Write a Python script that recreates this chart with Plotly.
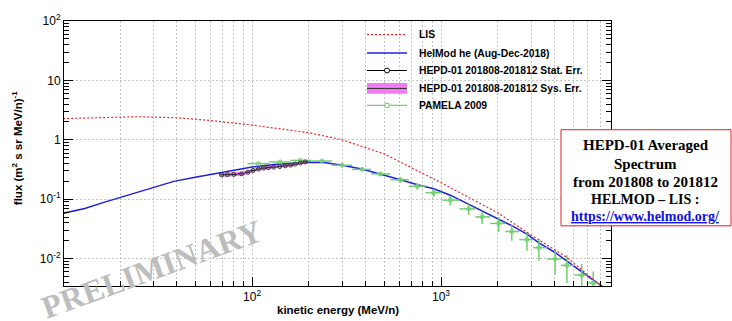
import math
import plotly.graph_objects as go

# ---------------- data ----------------
# Local interstellar spectrum (LIS)
lis_e = [10, 15, 25, 40, 60, 100, 200, 300, 500, 1000, 2000, 3000, 4600, 7100, 8000]
lis_f = [2.28, 2.38, 2.45, 2.35, 2.12, 1.77, 1.32, 1.0, 0.58, 0.19, 0.059, 0.025, 0.0107, 0.0034, 0.0024]

# HelMod modulated spectrum (Aug-Dec 2018)
helmod_e = [10, 13, 16.4, 20, 28, 38.5, 50, 65, 80, 100, 130, 160, 200, 240, 300, 380, 500, 610,
            750, 915, 1120, 1400, 1650, 2020, 2370, 2850, 3300, 4020, 4640, 5560, 6950, 8000]
helmod_f = [0.058, 0.07, 0.0885, 0.107, 0.148, 0.2, 0.235, 0.273, 0.31, 0.35, 0.385, 0.405, 0.418,
            0.415, 0.375, 0.322, 0.257, 0.213, 0.176, 0.15, 0.117, 0.083, 0.0646, 0.0473, 0.0359,
            0.0259, 0.0185, 0.0127, 0.00904, 0.00598, 0.00363, 0.0026]

# HEPD-01 201808-201812
hepd_e = [69, 74, 80, 88, 95, 101, 108, 115, 122, 130, 140, 150, 160, 169, 180, 191]
hepd_f = [0.257, 0.26, 0.262, 0.268, 0.285, 0.305, 0.322, 0.335, 0.34, 0.347, 0.355, 0.365, 0.375,
          0.39, 0.408, 0.425]
hepd_stat = [0.004, 0.004, 0.004, 0.004, 0.004, 0.004, 0.004, 0.004, 0.004, 0.004, 0.004, 0.005,
             0.005, 0.005, 0.005, 0.005]
hepd_sys_lo = [0.238, 0.241, 0.243, 0.248, 0.266, 0.287, 0.305, 0.318, 0.324, 0.331, 0.339, 0.349,
               0.359, 0.373, 0.39, 0.406]
hepd_sys_hi = [0.277, 0.28, 0.282, 0.289, 0.305, 0.324, 0.34, 0.352, 0.357, 0.363, 0.371, 0.381,
               0.391, 0.407, 0.426, 0.444]

# PAMELA 2009
pam_e = [108, 141, 180, 234, 299, 382, 477, 610, 748, 915, 1120, 1400, 1650, 2020, 2370, 2850,
         3300, 4020, 4640, 5560, 6400]
pam_f = [0.398, 0.424, 0.45, 0.44, 0.373, 0.318, 0.267, 0.213, 0.166, 0.129, 0.0966, 0.0689,
         0.0504, 0.0392, 0.0286, 0.0209, 0.0153, 0.0099, 0.0077, 0.0053, 0.0039]
pam_err = [0.016, 0.017, 0.018, 0.018, 0.019, 0.019, 0.021, 0.021, 0.02, 0.019, 0.017, 0.014,
           0.012, 0.011, 0.0086, 0.0073, 0.0061, 0.0045, 0.0038, 0.0029, 0.0022]

x_tickvals = [100, 1000]
x_ticktext = ["10<sup>2</sup>", "10<sup>3</sup>"]
y_tickvals = [0.01, 0.1, 1, 10, 100]
y_ticktext = ["10<sup>-2</sup>", "10<sup>-1</sup>", "1", "10", "10<sup>2</sup>"]

# ---------------- helpers ----------------
W, H = 732, 321
ML, MR, MT, MB = 64, 121, 13, 35
PW, PH = W - ML - MR, H - MT - MB


def px(x):
    return (x - ML) / PW


def py(y):
    return (H - MB - y) / PH


def bin_edges(e):
    """Geometric midpoints between neighbouring energies -> half widths."""
    mids = [math.sqrt(e[i] * e[i + 1]) for i in range(len(e) - 1)]
    lo = [e[0] ** 2 / mids[0]] + mids
    hi = mids + [e[-1] ** 2 / mids[-1]]
    return [c - l for c, l in zip(e, lo)], [h - c for c, h in zip(e, hi)]


RED = "#e8262a"
BLUE = "#1f1fe0"
GREEN = "#6fd06f"
MAGENTA = "#f27af2"
SANS = "Liberation Sans, Arial, sans-serif"
SERIF = "Liberation Serif, Times New Roman, serif"

fig = go.Figure()

fig.add_trace(go.Scatter(x=helmod_e, y=helmod_f, mode="lines",
                         line=dict(color=BLUE, width=1.5), showlegend=False))

pm, pp = bin_edges(pam_e)
fig.add_trace(go.Scatter(
    x=pam_e, y=pam_f, mode="markers",
    marker=dict(symbol="circle-open", size=4, color=GREEN, line=dict(width=1, color=GREEN)),
    error_x=dict(type="data", array=pp, arrayminus=pm, color=GREEN, thickness=1.5, width=0),
    error_y=dict(type="data", array=pam_err, color=GREEN, thickness=1.5, width=0),
    showlegend=False))

fig.add_trace(go.Scatter(x=hepd_e, y=hepd_sys_lo, mode="lines", line=dict(width=0, color=MAGENTA),
                         showlegend=False))
fig.add_trace(go.Scatter(x=hepd_e, y=hepd_sys_hi, mode="lines", line=dict(width=0, color=MAGENTA),
                         fill="tonexty", fillcolor=MAGENTA, showlegend=False))

hm, hp = bin_edges(hepd_e)
fig.add_trace(go.Scatter(
    x=hepd_e, y=hepd_f, mode="markers",
    marker=dict(symbol="circle-open", size=4, color="#333333", line=dict(width=1, color="#333333")),
    error_x=dict(type="data", array=hp, arrayminus=hm, color="#222222", thickness=1, width=0),
    error_y=dict(type="data", array=hepd_stat, color="#222222", thickness=1, width=0),
    showlegend=False))

fig.add_trace(go.Scatter(x=lis_e, y=lis_f, mode="lines",
                         line=dict(color=RED, width=1.2, dash="2px,2px"), showlegend=False))

# ---------------- axes ----------------
x_minor = [m * 10 ** d for d in range(1, 4) for m in range(2, 10)]
y_minor = [m * 10 ** d for d in range(-3, 2) for m in range(2, 10)]

fig.update_xaxes(
    type="log", range=[1.004, 3.9],
    tickvals=x_tickvals, ticktext=x_ticktext,
    ticks="inside", ticklen=9, tickcolor="black", tickwidth=1,
    showgrid=True, gridcolor="#c4c4c4", griddash="2px,2px", gridwidth=1,
    minor=dict(tickvals=x_minor, ticks="inside", ticklen=5, tickcolor="black",
               showgrid=True, gridcolor="#c4c4c4", griddash="2px,2px", gridwidth=1),
    showline=True, linecolor="black", linewidth=1, mirror=True,
    tickfont=dict(family=SANS, size=12, color="black"),
    zeroline=False,
)
fig.update_yaxes(
    type="log", range=[-2.46, 2.0],
    tickvals=y_tickvals, ticktext=y_ticktext,
    ticks="inside", ticklen=9, tickcolor="black", tickwidth=1,
    showgrid=True, gridcolor="#c4c4c4", griddash="2px,2px", gridwidth=1,
    minor=dict(tickvals=y_minor, ticks="inside", ticklen=5, tickcolor="black", showgrid=False),
    showline=True, linecolor="black", linewidth=1, mirror="ticks",
    tickfont=dict(family=SANS, size=12, color="black"),
    zeroline=False,
)

shapes = []
ann = []

# axis titles
ann.append(dict(x=px(338), y=py(311), text="<b>kinetic energy (MeV/n)</b>",
                font=dict(family=SANS, size=11.5, color="black")))
ann.append(dict(x=px(17), y=py(144), text="<b>flux (m<sup>2</sup> s sr MeV/n)<sup>-1</sup></b>",
                textangle=-90, font=dict(family=SANS, size=11.5, color="black")))

# ---------------- legend ----------------
lx0, lx1, lxm, ltx = 367, 407, 387, 417
rows = [27, 46, 64, 82.5, 100]
labels = ["LIS", "HelMod he (Aug-Dec-2018)", "HEPD-01 201808-201812 Stat. Err.",
          "HEPD-01 201808-201812 Sys. Err.", "PAMELA 2009"]

shapes.append(dict(type="line", xref="paper", yref="paper", x0=px(lx0), x1=px(lx1),
                   y0=py(rows[0]), y1=py(rows[0]), line=dict(color=RED, width=1.2, dash="2px,2px")))
shapes.append(dict(type="line", xref="paper", yref="paper", x0=px(lx0), x1=px(lx1),
                   y0=py(rows[1]), y1=py(rows[1]), line=dict(color=BLUE, width=1.5)))
shapes.append(dict(type="line", xref="paper", yref="paper", x0=px(lx0), x1=px(lx1),
                   y0=py(rows[2]), y1=py(rows[2]), line=dict(color="black", width=1)))
shapes.append(dict(type="circle", xref="paper", yref="paper", x0=px(lxm - 2.5), x1=px(lxm + 2.5),
                   y0=py(rows[2] - 2.5), y1=py(rows[2] + 2.5),
                   line=dict(color="black", width=1), fillcolor="white"))
shapes.append(dict(type="rect", xref="paper", yref="paper", x0=px(lx0), x1=px(lx1),
                   y0=py(rows[3] - 5.5), y1=py(rows[3] + 5.5), line=dict(width=0), fillcolor=MAGENTA))
shapes.append(dict(type="line", xref="paper", yref="paper", x0=px(lx0), x1=px(lx1),
                   y0=py(rows[3]), y1=py(rows[3]), line=dict(color="#333333", width=1)))
shapes.append(dict(type="line", xref="paper", yref="paper", x0=px(lx0), x1=px(lx1),
                   y0=py(rows[4]), y1=py(rows[4]), line=dict(color=GREEN, width=1.2)))
shapes.append(dict(type="rect", xref="paper", yref="paper", x0=px(lxm - 2), x1=px(lxm + 2),
                   y0=py(rows[4] - 2), y1=py(rows[4] + 2), line=dict(color=GREEN, width=1),
                   fillcolor="white"))
for r, t in zip(rows, labels):
    ann.append(dict(x=px(ltx), y=py(r), text="<b>%s</b>" % t, xanchor="left",
                    font=dict(family=SANS, size=10.3, color="black")))

# ---------------- info box ----------------
shapes.append(dict(type="rect", xref="paper", yref="paper", x0=px(561), x1=px(731),
                   y0=py(224), y1=py(125), line=dict(color="#e02020", width=1), fillcolor="white",
                   layer="above"))
box_lines = [("HEPD-01 Averaged", 141, 15, "black"),
             ("Spectrum", 160.5, 15, "black"),
             ("from 201808 to 201812", 179, 15, "black"),
             ("HELMOD – LIS :", 197, 14, "black"),
             ("<u>https://www.helmod.org/</u>", 214, 14, "#1010e0")]
for t, yy, s, c in box_lines:
    ann.append(dict(x=px(646), y=py(yy), text="<b>%s</b>" % t,
                    font=dict(family=SERIF, size=s, color=c)))

# ---------------- watermark ----------------
ann.append(dict(x=px(152), y=py(269), text="<b>PRELIMINARY</b>", textangle=-20,
                font=dict(family=SERIF, size=32, color="#bdbdbd")))

for a in ann:
    a.setdefault("xref", "paper")
    a.setdefault("yref", "paper")
    a.setdefault("showarrow", False)
    a.setdefault("xanchor", "center")
    a.setdefault("yanchor", "middle")

fig.update_layout(
    width=W, height=H,
    margin=dict(l=ML, r=MR, t=MT, b=MB, pad=0),
    paper_bgcolor="white", plot_bgcolor="white",
    showlegend=False,
    shapes=shapes, annotations=ann,
)

fig.write_html("out.html")
